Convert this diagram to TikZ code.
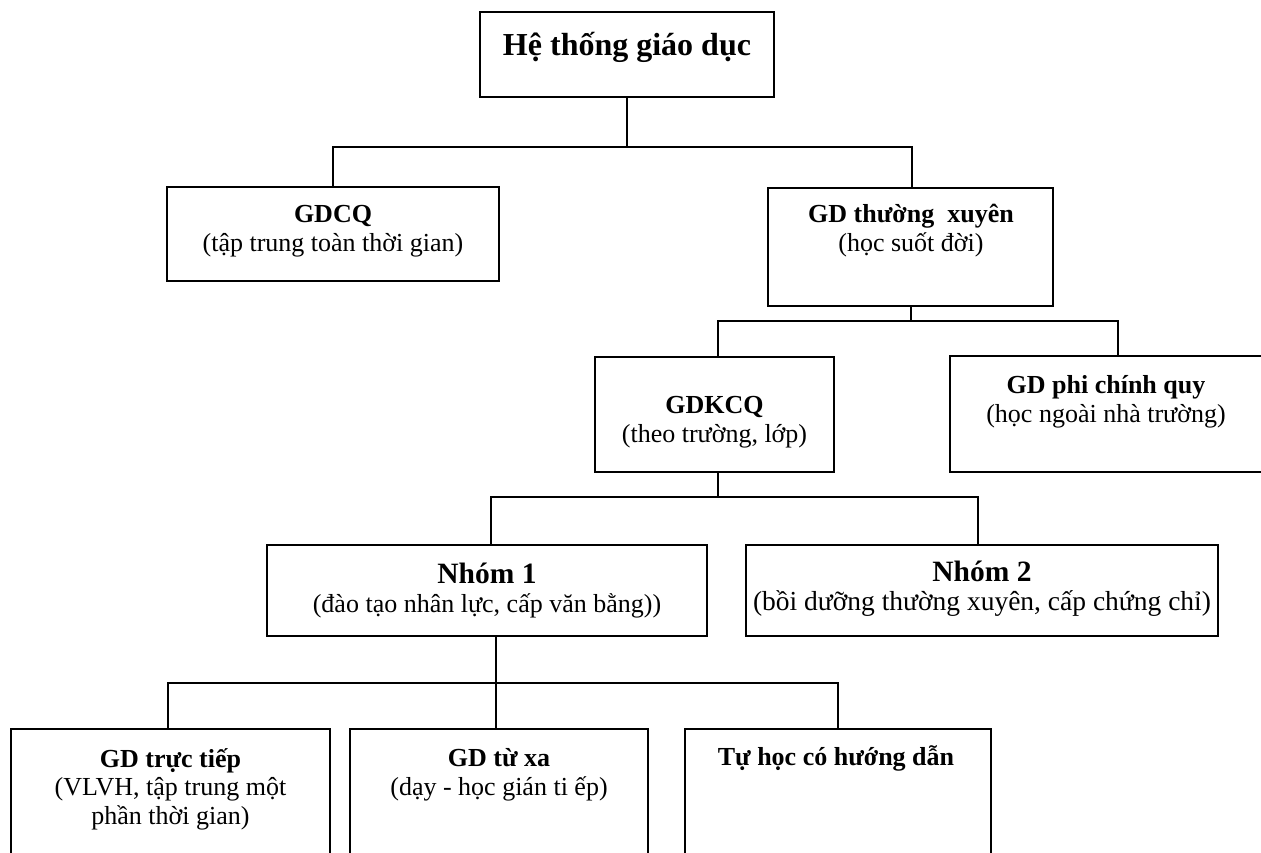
\documentclass[tikz,border=0pt]{standalone}
\usepackage{fontspec}
\setmainfont{Liberation Serif}
\begin{document}
\begin{tikzpicture}[x=1pt,y=-1pt,
  frame/.style={draw=black, line width=2pt, inner sep=0pt},
  wire/.style={draw=black, line width=2pt},
  % multi-line labels are placed by the baseline of their last line
  lbl/.style={align=center, anchor=base, inner sep=0pt, font=\fontsize{26}{28.5}\selectfont},
  bigbold/.style={font=\fontsize{32}{36}\selectfont\bfseries, anchor=base, inner sep=0pt}]
\useasboundingbox (0,0) rectangle (1261,852);
\fill[white] (0,0) rectangle (1261,852);
\clip (0,0) rectangle (1261,852);

% boxes
\node[frame, minimum width=294pt, minimum height=85pt]  (top)   at (627,54.5) {};
\node[frame, minimum width=332pt, minimum height=94pt]  (gdcq)  at (333,234) {};
\node[frame, minimum width=285pt, minimum height=118pt] (gdtx)  at (910.5,247) {};
\node[frame, minimum width=239pt, minimum height=115pt] (gdkcq) at (714.5,414.5) {};
\node[frame, minimum width=336pt, minimum height=116pt] (phi)   at (1118,414) {};
\node[frame, minimum width=440pt, minimum height=91pt]  (nhom1) at (487,590.5) {};
\node[frame, minimum width=472pt, minimum height=91pt]  (nhom2) at (982,590.5) {};
\node[frame, minimum width=319pt, minimum height=151pt] (tt)    at (170.5,804.5) {};
\node[frame, minimum width=298pt, minimum height=151pt] (tx)    at (499,804.5) {};
\node[frame, minimum width=306pt, minimum height=151pt] (th)    at (838,804.5) {};

% texts
\node[bigbold] (top-t) at (627,55) {Hệ thống giáo dục};
\node[lbl] (gdcq-t)  at (333,251)   {\textbf{GDCQ}\\(tập trung toàn thời gian)};
\node[lbl] (gdtx-t)  at (911,251)   {\textbf{GD thường\ \ xuyên}\\(học suốt đời)};
\node[lbl] (gdkcq-t) at (714.5,442) {\textbf{GDKCQ}\\(theo trường, lớp)};
\node[lbl] (phi-t)   at (1106,422)  {\textbf{GD phi chính quy}\\(học ngoài nhà trường)};
\node[lbl] (nhom1-t) at (487,612)   {{\fontsize{29.5}{29.5}\selectfont\bfseries Nhóm 1}\\(đào tạo nhân lực, cấp văn bằng))};
\node[lbl] (nhom2-t) at (982,610)   {{\fontsize{29.5}{29.5}\selectfont\bfseries Nhóm 2}\\{\fontsize{27.5}{28.5}\selectfont(bồi dưỡng thường xuyên, cấp chứng chỉ)}};
\node[lbl] (tt-t)    at (170.5,824) {\textbf{GD trực tiếp}\\(VLVH, tập trung một\\phần thời gian)};
\node[lbl] (tx-t)    at (499,795)   {\textbf{GD từ xa}\\(dạy - học gián ti ếp)};
\node[lbl] (th-t)    at (836,765)   {\textbf{Tự học có hướng dẫn}};

% junction points of the tree
\coordinate (bus1) at (627,147);
\coordinate (bus2) at (911,321);
\coordinate (bus3) at (718,497);
\coordinate (bus4) at (496,683);

% connectors
\draw[wire] (top.south) -- (bus1);
\draw[wire] (gdcq.north) |- (bus1) -| ([xshift=1.5pt]gdtx.north);
\draw[wire] ([xshift=0.5pt]gdtx.south) -- (bus2);
\draw[wire] ([xshift=3.5pt]gdkcq.north) |- (bus2) -| (phi.north);
\draw[wire] ([xshift=3.5pt]gdkcq.south) -- (bus3);
\draw[wire] ([xshift=4pt]nhom1.north) |- (bus3) -| ([xshift=-4pt]nhom2.north);
\draw[wire] ([xshift=9pt]nhom1.south) -- ([xshift=-3pt]tx.north);
\draw[wire] ([xshift=-2.5pt]tt.north) |- (bus4) -| (th.north);
\end{tikzpicture}
\end{document}
